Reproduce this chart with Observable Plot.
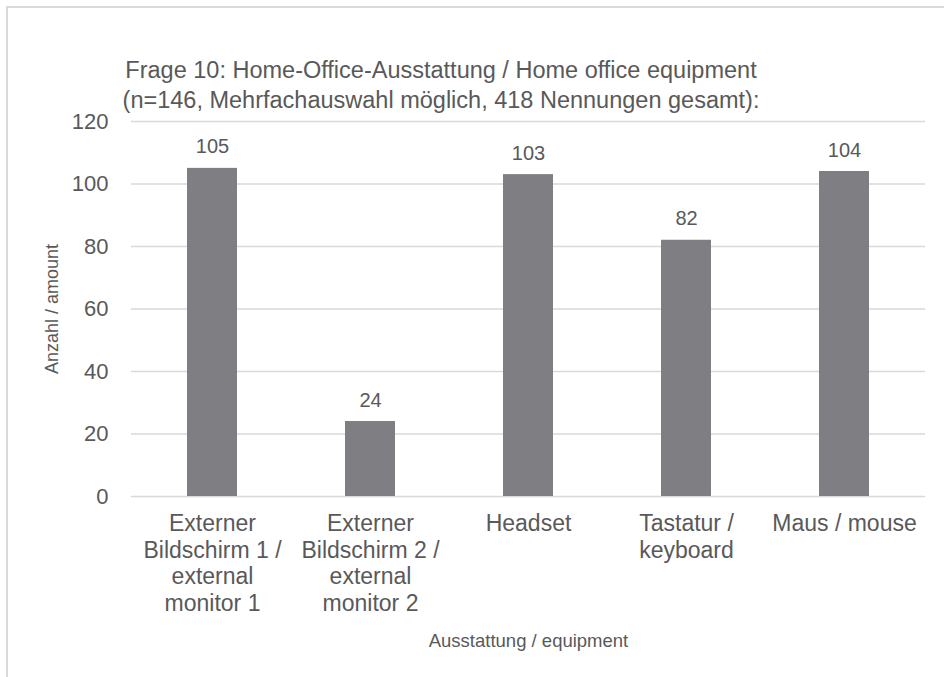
<!DOCTYPE html>
<html>
<head>
<meta charset="utf-8">
<script src="https://cdn.jsdelivr.net/npm/d3@7"></script>
<script src="https://cdn.jsdelivr.net/npm/@observablehq/plot@0.6"></script>
<style>
  body { margin: 0; background: #ffffff; }
  #wrap { position: relative; width: 944px; height: 677px; overflow: hidden; font-family: "Liberation Sans", Arial, sans-serif; }
  #frame { position: absolute; left: 6px; top: 6px; width: 1000px; height: 1000px; border-left: 2px solid #d9d9d9; border-top: 2px solid #d9d9d9; box-sizing: border-box; }
  #title { position: absolute; left: 0; top: 55px; width: 882px; text-align: center; font-size: 23.5px; line-height: 30px; color: #595959; }
  #chart { position: absolute; left: 0; top: 0; }
</style>
</head>
<body>
<div id="wrap">
  <div id="frame"></div>
  <div id="chart"></div>
  <div id="title">Frage 10: Home-Office-Ausstattung / Home office equipment<br>(n=146, Mehrfachauswahl möglich, 418 Nennungen gesamt):</div>
</div>
<script>
const categories = [
  "Externer Bildschirm 1 / external monitor 1",
  "Externer Bildschirm 2 / external monitor 2",
  "Headset",
  "Tastatur / keyboard",
  "Maus / mouse"
];
const tickLabels = [
  "Externer\nBildschirm 1 /\nexternal\nmonitor 1",
  "Externer\nBildschirm 2 /\nexternal\nmonitor 2",
  "Headset",
  "Tastatur /\nkeyboard",
  "Maus / mouse"
];
const counts = [105, 24, 103, 82, 104];
const yTicks = [0, 20, 40, 60, 80, 100, 120];
const yTitle = "Anzahl / amount";
const xTitle = "Ausstattung / equipment";

const data = categories.map((c, i) => ({category: c, count: counts[i]}));
const textColor = "#595959";
const font = "'Liberation Sans', Arial, sans-serif";

const chart = Plot.plot({
  width: 944,
  height: 677,
  marginLeft: 131,
  marginRight: 19,
  marginTop: 121,
  marginBottom: 181,
  style: {fontFamily: font, color: textColor, background: "transparent", overflow: "visible"},
  x: {domain: categories, paddingInner: 0.685, paddingOuter: 0.3425, align: 0.5},
  y: {domain: [0, 120]},
  marks: [
    Plot.gridY(yTicks, {stroke: "#d9d9d9", strokeOpacity: 1, strokeWidth: 1.5}),
    Plot.barY(data, {x: "category", y: "count", fill: "#7f7f83"}),
    Plot.text(data, {x: "category", y: "count", text: d => String(d.count), lineAnchor: "bottom", dy: -15, fontSize: 20, fill: textColor}),
    Plot.axisY({ticks: yTicks, tickSize: 0, tickPadding: 23, fontSize: 22, fill: textColor, label: null}),
    Plot.axisX({tickSize: 0, tickPadding: 15, fontSize: 23, lineHeight: 1.17, fill: textColor, label: null,
      tickFormat: c => tickLabels[categories.indexOf(c)]}),
    Plot.text([yTitle], {text: d => d, frameAnchor: "left", textAnchor: "middle", lineAnchor: "middle", rotate: -90, dx: -79, fontSize: 18, fill: textColor}),
    Plot.text([xTitle], {text: d => d, frameAnchor: "bottom", lineAnchor: "bottom", dy: 150, fontSize: 18.5, fill: textColor})
  ]
});
document.getElementById("chart").appendChild(chart);
</script>
</body>
</html>
